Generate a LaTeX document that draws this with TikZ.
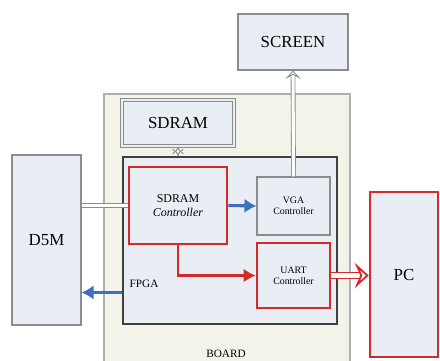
\documentclass[tikz,border=0pt]{standalone}
\usepackage{fontspec}
\setmainfont{Liberation Serif}
\usepackage{xcolor}
\usetikzlibrary{arrows.meta,positioning,calc}
\definecolor{boxfill}{HTML}{E9EEF5}
\definecolor{boardfill}{HTML}{F4F3EA}
\definecolor{linegray}{HTML}{8C8C8C}
\definecolor{ctlred}{HTML}{D42A2A}
\definecolor{flowblue}{HTML}{3F6FBF}

\begin{document}
\begin{tikzpicture}[
  blk/.style={draw=linegray, fill=boxfill, line width=0.8pt, align=center, inner sep=2pt},
  bigblk/.style={blk, font=\fontsize{12}{13}\selectfont},
  ctl/.style={blk, font=\fontsize{7}{8}\selectfont},
  redctl/.style={ctl, draw=ctlred, line width=1.8pt},
  board/.style={draw=linegray!70, fill=boardfill, line width=0.8pt},
  fpgabox/.style={draw=black!75, fill=boxfill, line width=1.1pt},
  bus/.style={draw=linegray, double=white, double distance=2.2pt, line width=0.6pt},
  busarr/.style={bus, -{Stealth[open, fill=white, length=6pt, width=11pt, inset=3pt, line width=0.6pt]}},
  bluearr/.style={flowblue, line width=2.2pt, -{Latex[length=3mm, width=3.6mm]}},
  redarr/.style={ctlred, line width=1.8pt, -{Latex[length=3mm, width=3.4mm]}},
  redbus/.style={draw=ctlred, double=white, double distance=3pt, line width=1.3pt, -{Stealth[open, fill=white, length=10pt, width=18pt, inset=4pt, line width=1.3pt]}},
  lbl/.style={font=\fontsize{8}{9}\selectfont, inner sep=1pt}
]
  \useasboundingbox (0,0) rectangle (11,-9);

  \node[board, minimum width=6.15cm, minimum height=6.9cm] (board) at (5.675,-5.8) {};
  \node[lbl] (boardlbl) at (5.65,-8.84) {BOARD};

  \node[bigblk, minimum width=2.75cm, minimum height=1.4cm] (screen) at (7.325,-1.05) {SCREEN};
  \node[bigblk, double=boxfill, double distance=1pt, minimum width=2.8cm, minimum height=1.15cm] (sdram) at (4.45,-3.075) {SDRAM};
  \node[fpgabox, minimum width=5.35cm, minimum height=4.175cm] (fpga) at (5.75,-6.0125) {};
  \node[lbl, anchor=west] (fpgalbl) at (3.2,-7.1) {FPGA};

  \node[redctl, minimum width=2.45cm, minimum height=1.925cm, font=\fontsize{8.5}{10}\selectfont] (sdramctl) at (4.45,-5.1375) {SDRAM\\ \textit{Controller}};
  \node[ctl, minimum width=1.825cm, minimum height=1.45cm] (vga) at (7.3375,-5.15) {VGA\\ Controller};
  \node[redctl, minimum width=1.825cm, minimum height=1.625cm] (uart) at (7.3375,-6.8875) {UART\\ Controller};

  \node[bigblk, minimum width=1.725cm, minimum height=4.25cm] (d5m) at (1.1625,-6.0) {D5M};
  \node[bigblk, draw=ctlred, line width=1.8pt, minimum width=1.7cm, minimum height=4.125cm] (pc) at (10.1,-6.8625) {PC};

  \coordinate (fpgaout) at ($(fpga.west)+(0,-1.3)$);

  \draw[bus] (d5m.east |- sdramctl.west) -- (sdramctl.west);
  \draw[bus, {Implies}-{Implies}] (sdram.south) -- (fpga.north -| sdram.south);
  \draw[busarr] (vga.north) -- (screen.south);
  \draw[bluearr] (sdramctl.east) -- (vga.west);
  \draw[redarr] (sdramctl.south) |- (uart.west);
  \draw[redbus] (uart.east) -- (pc.west |- uart.east);
  \draw[bluearr] (fpgaout) -- (d5m.east |- fpgaout);
\end{tikzpicture}
\end{document}
